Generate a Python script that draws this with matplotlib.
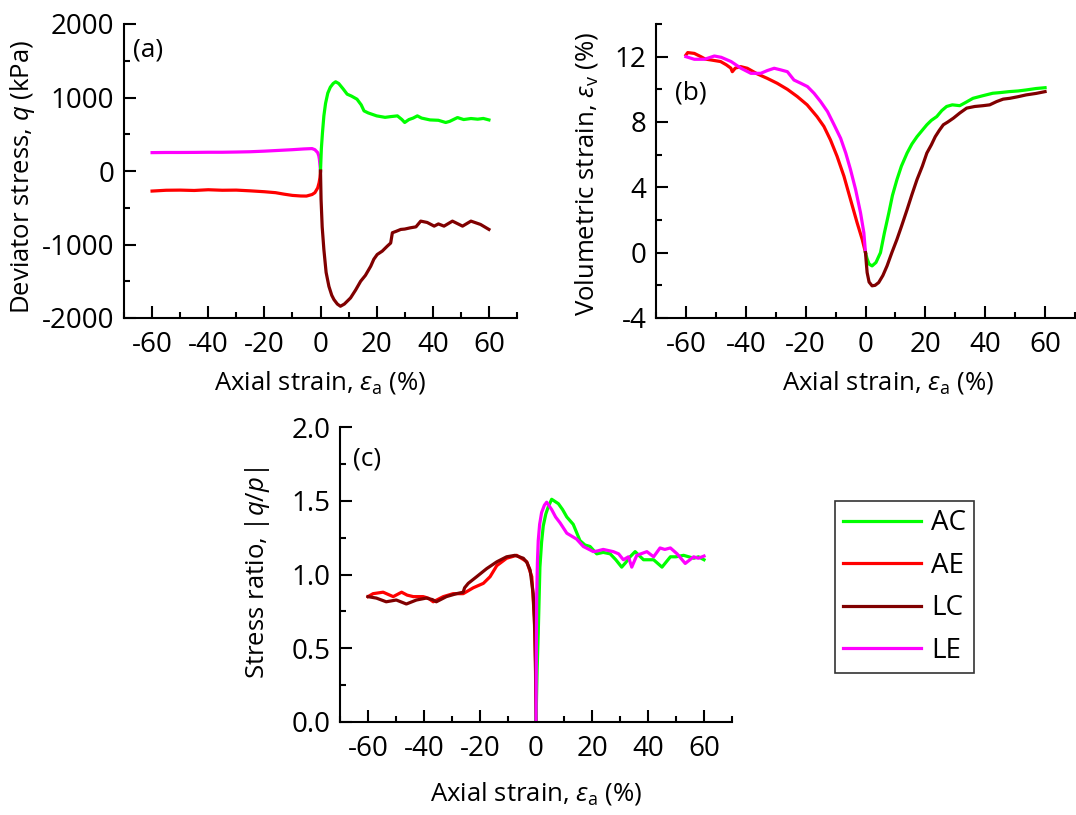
import matplotlib
matplotlib.use('Agg')
import matplotlib.pyplot as plt
from matplotlib.ticker import MultipleLocator, FormatStrFormatter

plt.rcParams['font.family'] = ['Open Sans', 'DejaVu Sans']
plt.rcParams['mathtext.fontset'] = 'custom'
plt.rcParams['mathtext.rm'] = 'Open Sans'
plt.rcParams['mathtext.it'] = 'Open Sans:italic'
plt.rcParams['mathtext.bf'] = 'Open Sans:bold'
plt.rcParams['axes.unicode_minus'] = False

colors = {'AC': '#00ff00', 'AE': '#ff0000', 'LC': '#800000', 'LE': '#ff00ff'}

# ---- (a) deviator stress q (kPa) vs axial strain (%)
qa_AC_x = [0, 0.3, 0.7, 1.2, 1.8, 2.6, 3.5, 4.5, 5.4, 6.5, 8, 9.5, 11, 13, 14.5, 15.5, 17, 20, 23,
           25, 27.4, 29, 30, 31.5, 33, 34.5, 36, 39, 42, 44.6, 46, 48.8, 51, 53.6, 56, 58, 60]
qa_AC_y = [0, 300, 520, 750, 920, 1060, 1140, 1190, 1214, 1190, 1120, 1045, 1020, 977, 900, 818,
           790, 750, 730, 740, 750, 700, 660, 700, 720, 750, 720, 695, 690, 660, 675, 727, 700,
           714, 705, 715, 695]
qa_LC_x = [0, 0.2, 0.6, 1.2, 2, 3, 4, 4.8, 6, 7.1, 8.5, 10.7, 12.5, 14.3, 16, 17.9, 19, 20.2,
           22, 23.8, 25, 25.6, 27, 28.6, 30, 32, 34, 35.7, 38, 40.5, 42, 44, 47, 50.6, 53.6,
           57, 60]
qa_LC_y = [0, -386, -760, -1068, -1380, -1570, -1690, -1750, -1810, -1840, -1810, -1727, -1620,
           -1500, -1420, -1295, -1200, -1136, -1090, -1022, -980, -840, -820, -795, -790, -773,
           -760, -682, -700, -750, -720, -750, -682, -750, -682, -727, -795]
qa_AE_x = [0, -0.2, -0.5, -1, -2, -3, -5, -7, -10, -13, -16, -20, -25, -30, -35, -40, -45, -50,
           -55, -60]
qa_AE_y = [0, -90, -160, -230, -295, -320, -341, -340, -332, -315, -295, -282, -270, -260, -262,
           -255, -265, -260, -262, -273]
qa_LE_x = [0, -0.2, -0.4, -0.6, -1, -2, -3, -6, -10, -15, -20, -25, -30, -35, -40, -45, -50,
           -55, -60]
qa_LE_y = [0, 80, 160, 205, 250, 290, 305, 300, 290, 280, 270, 262, 258, 255, 255, 253, 252,
           252, 250]

# ---- (b) volumetric strain (%) vs axial strain (%)
vb_AC_x = [0, 0.5, 1.2, 2.2, 3.5, 5, 6.3, 7.8, 9, 10.5, 12, 13.9, 15.5, 17.2, 19, 20.5, 22, 23.8,
           25.5, 27.1, 29, 31.5, 33.5, 35.9, 39, 42.5, 45, 48, 51, 53.6, 57, 60]
vb_AC_y = [0, -0.35, -0.7, -0.81, -0.6, 0, 1.2, 2.44, 3.5, 4.47, 5.3, 6.1, 6.65, 7.1, 7.5, 7.83,
           8.1, 8.33, 8.7, 8.95, 9.05, 9.0, 9.2, 9.45, 9.6, 9.76, 9.8, 9.86, 9.9, 9.96, 10.05,
           10.1]
vb_LC_x = [0, 0.3, 0.55, 1.2, 2.2, 3.2, 4.4, 5.8, 7.2, 8.8, 10.5, 12, 13.9, 15.5, 17.2, 19,
           20.5, 22, 23.3, 24.7, 26, 27.5, 29.4, 31.5, 33.8, 36.5, 39.3, 41.5, 43.8, 46, 48.2,
           51, 53.7, 57, 60]
vb_LC_y = [0, -0.7, -1.22, -1.8, -2.03, -2.0, -1.83, -1.4, -0.81, 0, 0.81, 1.6, 2.64, 3.55, 4.47,
           5.3, 6.1, 6.6, 7.1, 7.5, 7.83, 8.0, 8.24, 8.55, 8.85, 8.95, 9.0, 9.05, 9.25, 9.4, 9.45,
           9.55, 9.66, 9.75, 9.86]
vb_AE_x = [0, -1.1, -2.8, -5, -7.2, -9.5, -11.7, -13.9, -16.2, -19.5, -22.8, -26.1, -29.5, -32.8,
           -36.1, -39.5, -41.7, -43.5, -44.5, -45, -46.5, -48.4, -51.7, -53.5, -55, -57.2, -59.4,
           -60]
vb_AE_y = [0, 0.81, 1.83, 3.25, 4.68, 5.9, 6.9, 7.73, 8.33, 9.05, 9.56, 10.0, 10.37, 10.67,
           10.94, 11.29, 11.39, 11.3, 11.08, 11.3, 11.5, 11.7, 11.8, 11.85, 12.0, 12.2, 12.25,
           12.1]
vb_LE_x = [0, -0.55, -1.66, -3.3, -5, -6.6, -8.3, -10.5, -12.7, -15, -17.2, -19.4, -21.6, -23.9,
           -26.1, -28.3, -30.5, -32.8, -35, -38.3, -41.6, -44.9, -48.2, -50.5, -53.8, -57.2, -60]
vb_LE_y = [0, 1.22, 2.44, 3.86, 5.08, 6.1, 7.0, 7.83, 8.64, 9.25, 9.76, 10.17, 10.37, 10.57,
           11.08, 11.19, 11.29, 11.15, 10.98, 10.98, 11.29, 11.7, 11.96, 12.04, 11.84, 11.84,
           12.0]

# ---- (c) stress ratio |q/p| vs axial strain (%)
sc_AC_x = [0, 0.4, 0.8, 1.4, 2, 2.6, 3.5, 4.4, 5.6, 8, 9.5, 11, 13.3, 15.7, 17.5, 19.3, 21.7,
           24, 26.5, 28.5, 30.6, 32, 33.6, 35.4, 38.4, 42, 45, 48, 50, 52.7, 56.4, 58, 60]
sc_AC_y = [0, 0.35, 0.6, 1.05, 1.22, 1.33, 1.41, 1.46, 1.51, 1.48, 1.44, 1.39, 1.34, 1.23, 1.2,
           1.19, 1.14, 1.15, 1.14, 1.1, 1.05, 1.08, 1.12, 1.155, 1.10, 1.10, 1.05, 1.12, 1.12,
           1.13, 1.11, 1.12, 1.10]
sc_LE_x = [0, 0.12, 0.24, 0.5, 0.8, 1.3, 2, 3, 3.8, 5.6, 7, 8.6, 11, 14.5, 16.9, 20.5, 22, 24,
           27.6, 29.5, 31.2, 33, 34.2, 36, 39.6, 42, 44.3, 46, 48, 50.4, 53.3, 56.3, 58, 60]
sc_LE_y = [0, 0.5, 0.83, 1.08, 1.23, 1.34, 1.42, 1.47, 1.49, 1.44, 1.39, 1.35, 1.28, 1.24,
           1.19, 1.155, 1.16, 1.17, 1.155, 1.14, 1.10, 1.12, 1.05, 1.13, 1.155, 1.12, 1.18, 1.17,
           1.18, 1.14, 1.075, 1.12, 1.11, 1.125]
sc_LC_x = [0, -0.15, -0.36, -1, -2.1, -3.2, -4.5, -7.5, -10.5, -14, -17.6, -21.2, -24.2, -25.5,
           -26, -28.4, -32, -35.6, -37, -39.2, -42.7, -46.3, -49.9, -53.5, -57, -60]
sc_LC_y = [0, 0.35, 0.6, 0.87, 1.03, 1.08, 1.11, 1.13, 1.12, 1.086, 1.04, 0.985, 0.94, 0.91,
           0.88, 0.87, 0.85, 0.815, 0.83, 0.84, 0.827, 0.80, 0.827, 0.815, 0.84, 0.85]
sc_AE_x = [0, -0.2, -0.6, -1.5, -3.3, -6.9, -10.5, -14, -16.4, -18.8, -22.4, -26, -29.6, -33.1,
           -36.7, -38.5, -40.3, -43.8, -46, -48, -51, -54.6, -58.2, -60]
sc_AE_y = [0, 0.4, 0.71, 0.985, 1.087, 1.13, 1.11, 1.06, 0.985, 0.94, 0.91, 0.87, 0.87, 0.85,
           0.815, 0.84, 0.85, 0.85, 0.86, 0.88, 0.85, 0.88, 0.87, 0.85]

W, H = 1076, 815


def px_axes(fig, left, top, right, bottom):
    return fig.add_axes([left / W, 1 - bottom / H, (right - left) / W, (bottom - top) / H])


def style_axes(ax, ymajor, yminor):
    ax.spines['top'].set_visible(False)
    ax.spines['right'].set_visible(False)
    for s in ('left', 'bottom'):
        ax.spines[s].set_linewidth(1.5)
    ax.set_xlim(-70, 70)
    ax.xaxis.set_major_locator(MultipleLocator(20))
    ax.xaxis.set_minor_locator(MultipleLocator(10))
    ax.yaxis.set_major_locator(MultipleLocator(ymajor))
    ax.yaxis.set_minor_locator(MultipleLocator(yminor))
    ax.tick_params(which='both', direction='in', width=1.5, labelsize=20)
    ax.tick_params(which='major', length=8.5, pad=7)
    ax.tick_params(which='minor', length=4.5)
    ax.tick_params(axis='x', which='major', pad=9)


fig = plt.figure(figsize=(W / 100, H / 100), dpi=100)
lw = 2.3

# (a)
ax1 = px_axes(fig, 124, 24, 517, 318)
ax1.plot(qa_AE_x, qa_AE_y, color=colors['AE'], lw=lw)
ax1.plot(qa_LE_x, qa_LE_y, color=colors['LE'], lw=lw)
ax1.plot(qa_AC_x, qa_AC_y, color=colors['AC'], lw=lw)
ax1.plot(qa_LC_x, qa_LC_y, color=colors['LC'], lw=lw)
style_axes(ax1, 1000, 500)
ax1.set_ylim(-2000, 2000)
ax1.set_xlabel(r'Axial strain, $\varepsilon_\mathrm{a}$ (%)', fontsize=18.5)
ax1.set_ylabel(r'Deviator stress, $q$ (kPa)', fontsize=18.5)
ax1.xaxis.set_label_coords(0.5, -0.175)
ax1.yaxis.set_label_coords(-0.221, 0.48)
ax1.text(0.022, 0.91, '(a)', transform=ax1.transAxes, fontsize=19, va='center')

# (b)
ax2 = px_axes(fig, 656, 24, 1075, 318)
ax2.plot(vb_AE_x, vb_AE_y, color=colors['AE'], lw=lw)
ax2.plot(vb_LE_x, vb_LE_y, color=colors['LE'], lw=lw)
ax2.plot(vb_AC_x, vb_AC_y, color=colors['AC'], lw=lw)
ax2.plot(vb_LC_x, vb_LC_y, color=colors['LC'], lw=lw)
style_axes(ax2, 4, 2)
ax2.set_ylim(-4, 14)
ax2.set_xlabel(r'Axial strain, $\varepsilon_\mathrm{a}$ (%)', fontsize=18.5)
ax2.set_ylabel(r'Volumetric strain, $\varepsilon_\mathrm{v}$ (%)', fontsize=18.5)
ax2.xaxis.set_label_coords(0.555, -0.175)
ax2.yaxis.set_label_coords(-0.134, 0.49)
ax2.text(0.045, 0.765, '(b)', transform=ax2.transAxes, fontsize=19, va='center')

# (c)
ax3 = px_axes(fig, 340, 427, 732, 722)
ax3.plot(sc_AE_x, sc_AE_y, color=colors['AE'], lw=lw, label='AE')
ax3.plot(sc_LC_x, sc_LC_y, color=colors['LC'], lw=lw, label='LC')
ax3.plot(sc_AC_x, sc_AC_y, color=colors['AC'], lw=lw, label='AC')
ax3.plot(sc_LE_x, sc_LE_y, color=colors['LE'], lw=lw, label='LE')
style_axes(ax3, 0.5, 0.25)
ax3.set_ylim(0, 2.0)
ax3.yaxis.set_major_formatter(FormatStrFormatter('%.1f'))
ax3.set_xlabel(r'Axial strain, $\varepsilon_\mathrm{a}$ (%)', fontsize=18.5)
ax3.set_ylabel(r'Stress ratio, |$q/p$|', fontsize=18.5)
ax3.xaxis.set_label_coords(0.5, -0.195)
ax3.yaxis.set_label_coords(-0.173, 0.505)
ax3.text(0.033, 0.89, '(c)', transform=ax3.transAxes, fontsize=19, va='center')

# legend
handles = {l.get_label(): l for l in ax3.get_lines()}
order = ['AC', 'AE', 'LC', 'LE']
leg = fig.legend([handles[k] for k in order], order, loc='upper left',
                 bbox_to_anchor=(835 / W, 1 - 501 / H), fontsize=20, frameon=True,
                 fancybox=False, edgecolor='black', handlelength=2.8, handletextpad=0.35,
                 labelspacing=0.52, borderpad=0.3, borderaxespad=0)
leg.get_frame().set_linewidth(1.2)

fig.savefig('out.png', dpi=100)
